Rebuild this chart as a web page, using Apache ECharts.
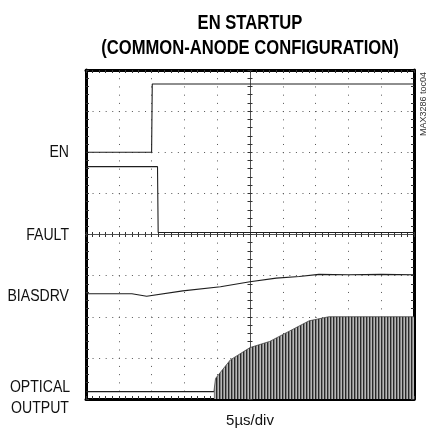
<!DOCTYPE html>
<html>
<head>
<meta charset="utf-8">
<script src="https://cdn.jsdelivr.net/npm/echarts@6/dist/echarts.min.js"></script>
<style>
  html, body { margin: 0; padding: 0; background: #fff; }
  #chart { width: 430px; height: 428px; }
</style>
</head>
<body>
<div id="chart"></div>
<script>
// scope screen in divisions: 10 across, 8 high, centre = 0
const enTime = [-5, -3.0, -2.98, 5]
const enLevel = [2.0, 2.0, 3.66, 3.66]

const faultTime = [-5, -2.82, -2.8, 5]
const faultLevel = [1.65, 1.65, 0.05, 0.05]

const biasTime = [-5, -3.6, -3.15, -2.05, -0.9, 0, 0.8, 1.5, 2.1, 3.0, 4.0, 5]
const biasLevel = [-1.44, -1.44, -1.5, -1.37, -1.27, -1.15, -1.06, -1.02, -0.97, -0.98, -0.97, -0.98]

const opticalTime = [-5, -1.1]
const opticalLevel = [-3.82, -3.82]

// envelope of the optical burst (upper peaks)
const burstTime = [-1.1, -1.05, -0.6, 0, 0.6, 1.2, 1.8, 2.4, 5]
const burstPeak = [-3.82, -3.5, -3.05, -2.75, -2.6, -2.35, -2.1, -2.0, -2.0]

const traceNames = ['EN', 'FAULT', 'BIASDRV', 'OPTICAL\nOUTPUT']

const zip = (t, v) => t.map((x, i) => [x, v[i]])

// vertical stripes for the dense oscillation
const stripe = document.createElement('canvas')
stripe.width = 3
stripe.height = 4
const sctx = stripe.getContext('2d')
sctx.fillStyle = '#2a2a2a'; sctx.fillRect(0, 0, 1, 4)
sctx.fillStyle = '#808080'; sctx.fillRect(1, 0, 1, 4)
sctx.fillStyle = '#b8b8b8'; sctx.fillRect(2, 0, 1, 4)

const labelFont = "'Liberation Sans', Arial, sans-serif"
const traceColor = '#1e1e1e'

function centreAxis(dim, position, gridLine) {
  const isX = dim === 'x'
  return {
    gridIndex: 0,
    type: 'value',
    min: isX ? -5 : -4,
    max: isX ? 5 : 4,
    interval: 1,
    position: position,
    axisLine: { onZero: true, lineStyle: { color: '#555', width: 1 } },
    axisTick: { show: true, length: 2.5, lineStyle: { color: '#333' } },
    minorTick: { show: true, splitNumber: 5, length: 2.5, lineStyle: { color: '#333' } },
    axisLabel: { show: false },
    splitLine: {
      show: gridLine,
      lineStyle: { color: '#555', width: 1, type: isX ? [1, 7.22] : [1, 5.56] }
    }
  }
}

function borderAxis(dim, position) {
  const isX = dim === 'x'
  return {
    gridIndex: 1,
    type: 'value',
    min: isX ? -5 : -4,
    max: isX ? 5 : 4,
    interval: 1,
    position: position,
    axisLine: { onZero: false, lineStyle: { color: '#000', width: 3 } },
    axisTick: { show: true, inside: true, length: 3, lineStyle: { color: '#333' } },
    minorTick: { show: true, splitNumber: 5, length: 3, lineStyle: { color: '#333' } },
    axisLabel: { show: false },
    splitLine: { show: false }
  }
}

function trace(data) {
  return {
    type: 'line',
    xAxisIndex: 0,
    yAxisIndex: 0,
    data: data,
    symbol: 'none',
    silent: true,
    lineStyle: { color: traceColor, width: 1.1 },
    z: 5
  }
}

function label(text, x, y, align) {
  return {
    type: 'text',
    x: x,
    y: y,
    scaleX: 0.88,
    style: {
      text: text,
      font: '16px ' + labelFont,
      fill: '#111',
      align: align,
      verticalAlign: 'middle',
      lineHeight: 21
    }
  }
}

const chart = echarts.init(document.getElementById('chart'))

chart.setOption({
  animation: false,
  grid: [
    { left: 86, right: 16, top: 70, bottom: 29 },
    { left: 86, right: 16, top: 70, bottom: 29 }
  ],
  xAxis: [
    centreAxis('x', 'bottom', true),
    centreAxis('x', 'top', false),
    borderAxis('x', 'bottom'),
    borderAxis('x', 'top')
  ],
  yAxis: [
    centreAxis('y', 'left', true),
    centreAxis('y', 'right', false),
    borderAxis('y', 'left'),
    borderAxis('y', 'right')
  ],
  series: [
    trace(zip(enTime, enLevel)),
    trace(zip(faultTime, faultLevel)),
    trace(zip(biasTime, biasLevel)),
    trace(zip(opticalTime, opticalLevel)),
    {
      type: 'line',
      xAxisIndex: 0,
      yAxisIndex: 0,
      data: zip(burstTime, burstPeak),
      symbol: 'none',
      silent: true,
      lineStyle: { color: '#444', width: 0.8 },
      areaStyle: { origin: 'start', opacity: 1, color: { image: stripe, repeat: 'repeat' } },
      z: 4
    }
  ],
  graphic: [
    {
      type: 'text',
      x: 250,
      y: 11,
      scaleX: 0.83,
      style: {
        text: 'EN STARTUP\n(COMMON-ANODE CONFIGURATION)',
        font: 'bold 20px ' + labelFont,
        fill: '#000',
        align: 'center',
        verticalAlign: 'top',
        lineHeight: 25
      }
    },
    label(traceNames[0], 69, 153, 'right'),
    label(traceNames[1], 69, 236, 'right'),
    label(traceNames[2], 69, 297, 'right'),
    label(traceNames[3], 40, 398, 'center'),
    {
      type: 'text',
      x: 250,
      y: 421,
      style: { text: '5µs/div', font: '15px ' + labelFont, fill: '#111', align: 'center', verticalAlign: 'middle' }
    },
    {
      type: 'text',
      x: 419,
      y: 104,
      rotation: Math.PI / 2,
      style: { text: 'MAX3286 toc04', font: '9px ' + labelFont, fill: '#333', align: 'center', verticalAlign: 'top' }
    }
  ]
})
</script>
</body>
</html>
